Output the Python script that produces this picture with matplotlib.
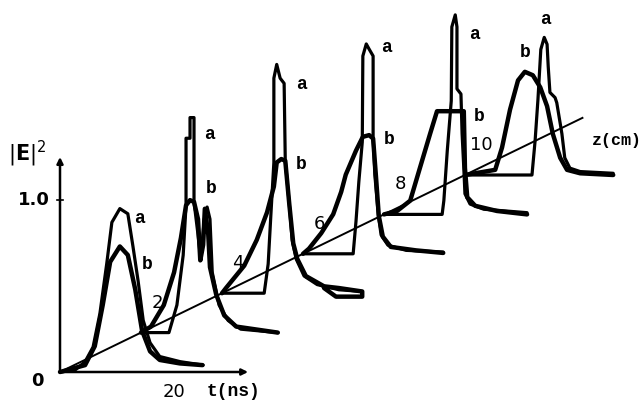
import numpy as np
import matplotlib
matplotlib.use('Agg')
import matplotlib.pyplot as plt
from matplotlib.transforms import Affine2D

# distance along the fibre, one pulse panel per value
Z_CM = [0, 2, 4, 6, 8, 10]
Z_TICKS = ['', '2', '4', '6', '8', '10']

# pulse profiles |E|^2 against t (ns), curve a and curve b
Z0_A = [(0, 0), (2.6, 0.01), (4.4, 0.06), (5.8, 0.145), (7.0, 0.34), (8.2, 0.63),
        (9.1, 0.87), (10.5, 0.95), (11.9, 0.92), (12.8, 0.73), (13.7, 0.53),
        (14.6, 0.30), (15.8, 0.17), (17.5, 0.09), (21.1, 0.06), (25.1, 0.04)]
Z0_B = [(0, 0), (4.4, 0.04), (6.1, 0.15), (7.5, 0.39), (8.8, 0.64), (10.5, 0.73),
        (11.9, 0.68), (13.2, 0.48), (14.4, 0.24), (15.8, 0.12), (17.5, 0.07),
        (21.0, 0.05), (25.0, 0.04)]

Z2_A = [(0, 0), (4.9, 0), (6.3, 0.16), (7.4, 0.45), (7.9, 0.74), (7.9, 1.13),
        (8.6, 1.13), (8.6, 1.25), (9.3, 1.25), (9.3, 0.76), (10.0, 0.57),
        (10.5, 0.42), (11.1, 0.66), (11.6, 0.73), (12.1, 0.66), (12.5, 0.35),
        (13.7, 0.16), (15.3, 0.07), (17.5, 0.02), (24.0, 0.0)]
Z2_B = [(0, 0), (1.75, 0.035), (4.0, 0.16), (5.8, 0.35), (7.0, 0.55), (7.9, 0.74),
        (8.6, 0.77), (9.3, 0.76), (10.0, 0.66), (10.4, 0.42), (10.9, 0.51),
        (11.2, 0.72), (11.8, 0.57), (12.1, 0.38), (13.2, 0.22), (14.6, 0.10),
        (16.7, 0.035), (24.0, 0.0)]

Z4_A = [(0, 0), (7.4, 0), (8.1, 0.17), (8.6, 0.47), (9.1, 0.76), (9.1, 1.25),
        (9.6, 1.33), (10.2, 1.25), (10.9, 1.22), (11.1, 0.77), (11.8, 0.52),
        (12.3, 0.31), (13.0, 0.20), (14.4, 0.10), (16.7, 0.05), (20.5, 0.02),
        (24.6, 0.01)]
Z4_B = [(0, 0), (0.7, 0.03), (3.9, 0.16), (6.1, 0.31), (7.9, 0.47), (9.1, 0.62),
        (9.6, 0.76), (10.4, 0.78), (11.1, 0.77), (11.8, 0.52), (12.5, 0.29),
        (13.2, 0.20), (14.7, 0.10), (17.9, 0.04), (20.5, 0.03), (24.6, 0.01),
        (24.6, -0.02), (20.0, -0.02), (17.9, 0.03)]

Z6_A = [(0, 0), (8.8, 0), (9.3, 0.19), (9.8, 0.42), (10.4, 0.65), (10.5, 1.15),
        (11.1, 1.22), (11.6, 1.19), (12.3, 1.15), (12.3, 0.68), (12.6, 0.46),
        (13.2, 0.23), (13.7, 0.11), (14.9, 0.05), (18.1, 0.02), (24.6, 0.01)]
Z6_B = [(0, 0), (1.05, 0.03), (3.2, 0.12), (5.3, 0.23), (6.7, 0.36), (7.5, 0.46),
        (9.3, 0.60), (10.5, 0.68), (11.6, 0.69), (12.3, 0.67), (12.8, 0.45),
        (13.3, 0.22), (14.0, 0.10), (15.4, 0.04), (19.8, 0.02), (24.6, 0.005)]

Z8_A = [(0, 0), (10.2, 0), (10.5, 0.08), (11.1, 0.37), (11.8, 0.66), (11.9, 1.09),
        (12.5, 1.16), (12.8, 1.09), (12.8, 0.73), (13.5, 0.70), (13.7, 0.47),
        (14.0, 0.27), (14.2, 0.12), (15.1, 0.06), (17.5, 0.03), (25.1, 0.01)]
Z8_B = [(0, 0), (2.3, 0.02), (4.6, 0.08), (6.3, 0.27), (8.1, 0.47), (9.3, 0.60),
        (14.0, 0.60), (14.2, 0.27), (14.6, 0.10), (16.0, 0.05), (19.8, 0.02),
        (25.1, 0.0)]

Z10_A = [(0, 0), (11.75, 0), (12.3, 0.20), (12.8, 0.44), (13.3, 0.73), (13.9, 0.80),
         (14.4, 0.76), (14.6, 0.63), (14.9, 0.48), (15.8, 0.45), (16.1, 0.42),
         (17.0, 0.24), (17.5, 0.10), (18.4, 0.04), (20.2, 0.02), (26.0, 0.01)]
Z10_B = [(0, 0), (5.3, 0.03), (6.5, 0.16), (7.9, 0.38), (9.3, 0.55), (10.5, 0.60),
         (11.9, 0.58), (13.2, 0.51), (14.4, 0.40), (15.4, 0.24), (16.7, 0.10),
         (17.9, 0.03), (20.2, 0.01), (26.0, 0.0)]

CURVES_A = [Z0_A, Z2_A, Z4_A, Z6_A, Z8_A, Z10_A]
CURVES_B = [Z0_B, Z2_B, Z4_B, Z6_B, Z8_B, Z10_B]

# oblique projection: pixel scale of the t and |E|^2 axes, shift per cm of z
PX_PER_NS = 5.7
PX_PER_UNIT = 172.0
DT_PER_CM = 40.5 / PX_PER_NS
DI_PER_CM = 19.7 / PX_PER_UNIT

# where the 'a' / 'b' letters sit, in pixels from each curve's maximum
A_LABEL_OFF = [(20, -10), (19, -17), (25, -20), (20, -4), (19, -20), (1, 18)]
B_LABEL_OFF = [(27, -18), (21, 12), (20, -5), (20, -4), (42, -5), (0, 19)]

MONO = 'Liberation Mono'


def panel_transform(ax, z):
    return Affine2D().translate(z * DT_PER_CM, z * DI_PER_CM) + ax.transData


def main():
    fig = plt.figure(figsize=(6.41, 4.07), dpi=100)
    ax = fig.add_axes([0, 0, 1, 1])
    ax.set_xlim(-60 / PX_PER_NS, 581 / PX_PER_NS)
    ax.set_ylim(-35 / PX_PER_UNIT, 372 / PX_PER_UNIT)
    ax.axis('off')

    # axes of the first panel
    arrow = dict(arrowstyle='-|>', lw=1.8, color='black', mutation_scale=9,
                 shrinkA=0, shrinkB=0)
    ax.annotate('', xy=(0, 1.25), xytext=(0, 0), arrowprops=arrow)
    ax.annotate('', xy=(33, 0), xytext=(0, 0), arrowprops=arrow)
    ax.plot([-0.6, 0.6], [1.0, 1.0], color='black', lw=1.2)

    # z axis through the panel origins
    z_end = 12.9
    ax.plot([0, z_end * DT_PER_CM], [0, z_end * DI_PER_CM], color='black', lw=1.4)

    for z, tick, a, b, aoff, boff in zip(Z_CM, Z_TICKS, CURVES_A, CURVES_B,
                                         A_LABEL_OFF, B_LABEL_OFF):
        tr = panel_transform(ax, z)
        a = np.array(a)
        b = np.array(b)
        ax.plot(b[:, 0], b[:, 1], color='black', lw=3.2, transform=tr,
                solid_joinstyle='round', solid_capstyle='round')
        ax.plot(a[:, 0], a[:, 1], color='black', lw=2.3, transform=tr,
                solid_joinstyle='round', solid_capstyle='round')

        ka = np.argmax(a[:, 1])
        kb = np.argmax(b[:, 1])
        ax.annotate('a', xy=(a[ka, 0], a[ka, 1]), xycoords=tr, xytext=aoff,
                    textcoords='offset pixels', ha='center', va='center',
                    fontsize=13, fontweight='bold', family=MONO)
        ax.annotate('b', xy=(b[kb, 0], b[kb, 1]), xycoords=tr, xytext=boff,
                    textcoords='offset pixels', ha='center', va='center',
                    fontsize=13, fontweight='bold', family=MONO)
        if tick:
            ax.annotate(tick, xy=(z * DT_PER_CM, z * DI_PER_CM), xytext=(16, 30),
                        textcoords='offset pixels', ha='center', va='center',
                        fontsize=13, family='DejaVu Sans')

    ax.text(-5.8, 1.27, r'$|\mathbf{E}|^2$', fontsize=15, ha='center', va='center')
    ax.text(-1.8, 1.0, '1.0', fontsize=13, fontweight='bold', ha='right',
            va='center', family='DejaVu Sans')
    ax.text(-3.9, -0.05, '0', fontsize=13, fontweight='bold', ha='center',
            va='center', family='DejaVu Sans')
    ax.text(20, -0.115, '20', fontsize=13, ha='center', va='center',
            family='DejaVu Sans')
    ax.text(30.5, -0.115, 't(ns)', fontsize=13, fontweight='bold', ha='center',
            va='center', family=MONO)
    zx = 13.4 * DT_PER_CM
    ax.text(zx + 2.5, 12.9 * DI_PER_CM - 0.13, 'z(cm)', fontsize=12,
            fontweight='bold', ha='center', va='center', family=MONO)

    fig.savefig('out.png', dpi=100)


if __name__ == '__main__':
    main()
